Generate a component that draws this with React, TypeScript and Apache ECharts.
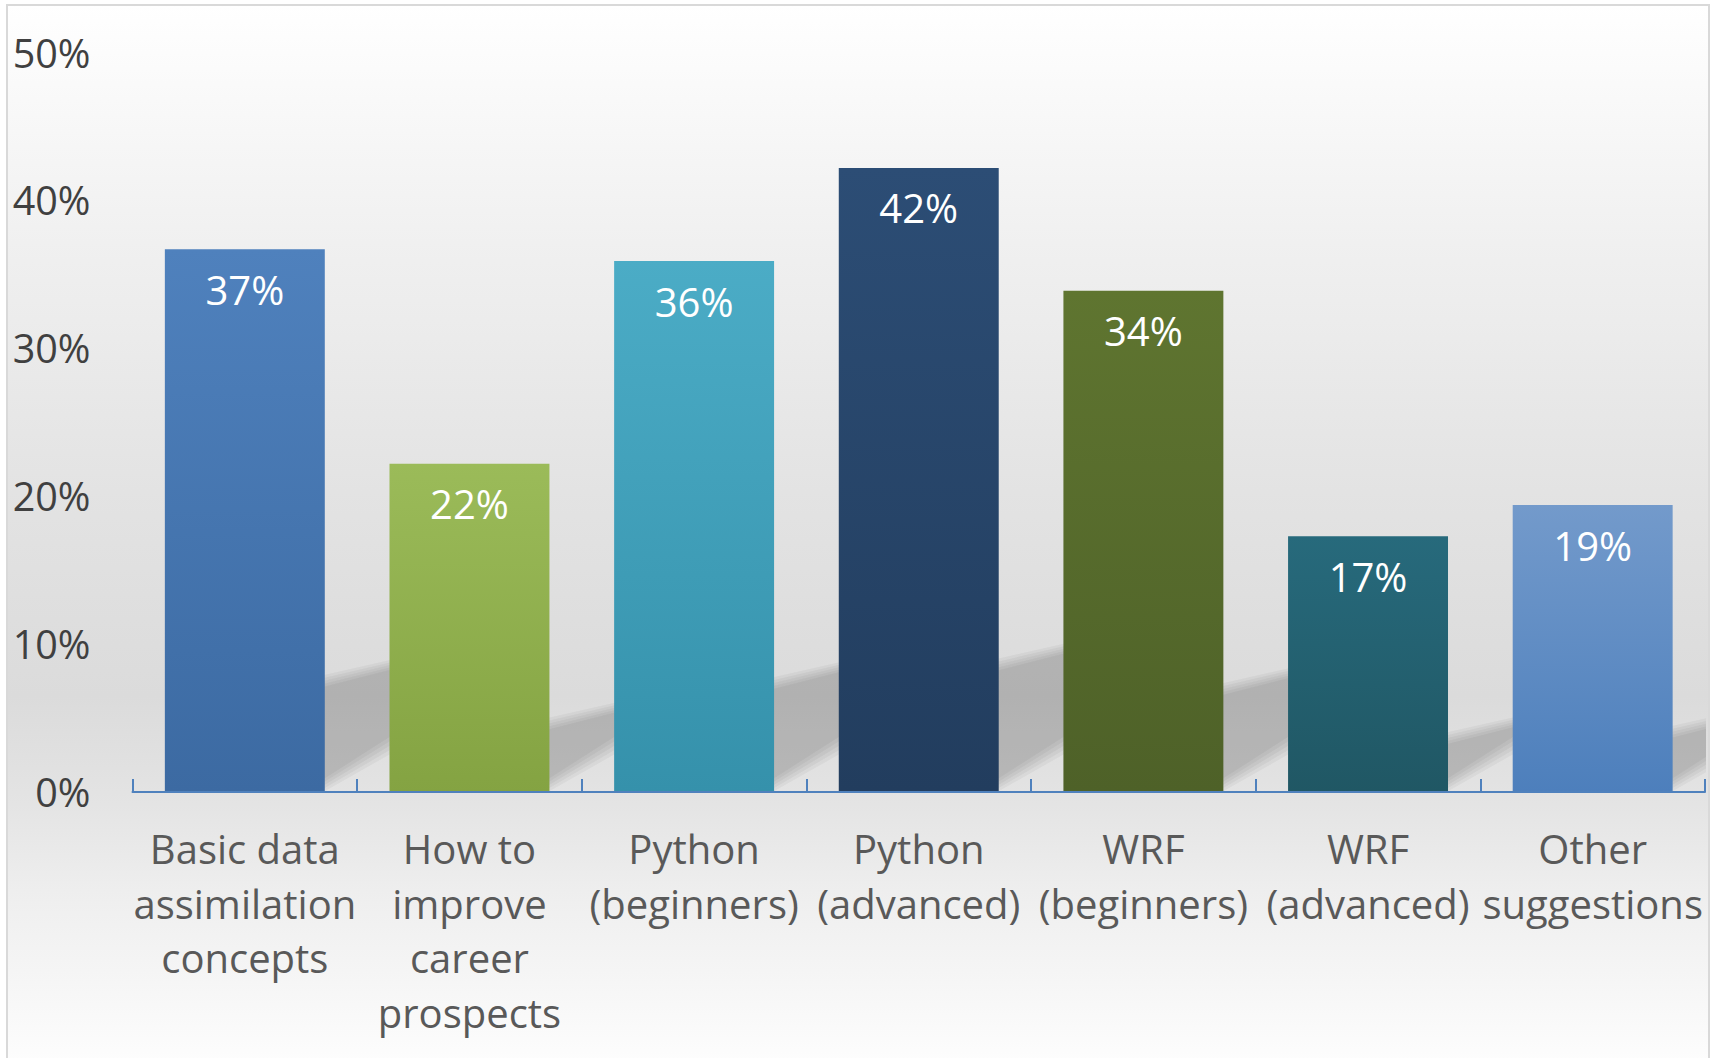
import React, { useEffect, useRef } from "react";
import * as echarts from "echarts";

const categories = [
  "Basic data\nassimilation\nconcepts",
  "How to\nimprove\ncareer\nprospects",
  "Python\n(beginners)",
  "Python\n(advanced)",
  "WRF\n(beginners)",
  "WRF\n(advanced)",
  "Other\nsuggestions",
];
const values = [0.367, 0.222, 0.359, 0.422, 0.339, 0.173, 0.194];
const barTopColors = ["#4f81bd", "#9bbb59", "#4bacc6", "#2c4d75", "#5f7530", "#276a7c", "#739acb"];
const barBottomColors = ["#3c6aa2", "#84a342", "#3591ab", "#223d5e", "#4e6128", "#205764", "#4d7fbc"];
const yTicks = { min: 0, max: 0.5, interval: 0.1 };

export default function App() {
  const ref = useRef<HTMLDivElement>(null);
  useEffect(() => {
    if (!ref.current) return;
    const chart = echarts.init(ref.current, undefined, { renderer: "svg" });
    const font = "'Open Sans', 'Noto Sans', sans-serif";
    const barRatio = 0.712;
    chart.setOption({
      animation: false,
      graphic: {
        elements: [
          {
            type: "rect",
            z: -10,
            silent: true,
            shape: { x: 7, y: 5, width: 1702, height: 1080 },
            style: {
              fill: new echarts.graphic.LinearGradient(0, 0, 0, 1, [
                { offset: 0, color: "#ffffff" },
                { offset: 0.22, color: "#f0f0f0" },
                { offset: 0.45, color: "#e3e3e3" },
                { offset: 0.64, color: "#dbdbdb" },
                { offset: 0.74, color: "#e4e4e4" },
                { offset: 0.82, color: "#eeeeee" },
                { offset: 1, color: "#ffffff" },
              ]),
              stroke: "#d9d9d9",
              lineWidth: 2,
            },
          },
        ],
      },
      grid: { left: 132.5, right: 12, top: 52.6, bottom: 266, containLabel: false },
      xAxis: {
        type: "category",
        data: categories,
        axisLine: { show: true, lineStyle: { color: "#4f81bd", width: 2 } },
        axisTick: { show: true, inside: true, length: 13, lineStyle: { color: "#4f81bd", width: 2 } },
        axisLabel: {
          interval: 0,
          color: "#595959",
          fontFamily: font,
          fontSize: 40,
          lineHeight: 54.7,
          margin: 29,
        },
        z: 5,
      },
      yAxis: {
        type: "value",
        min: yTicks.min,
        max: yTicks.max,
        interval: yTicks.interval,
        splitLine: { show: false },
        axisLine: { show: false },
        axisTick: { show: false },
        axisLabel: {
          color: "#404040",
          fontFamily: font,
          fontSize: 39.5,
          margin: 42,
          padding: [0, 0, 5, 0],
          formatter: (v: number) => Math.round(v * 100) + "%",
        },
      },
      series: [
        {
          type: "custom",
          z: 1,
          clip: true,
          silent: true,
          data: values.map((v, i) => [i, v]),
          renderItem: (params: any, api: any) => {
            const idx = api.value(0);
            const v = api.value(1);
            const base = api.coord([idx, 0]);
            const top = api.coord([idx, v]);
            const band = api.size([1, 0])[0];
            const bw = band * barRatio;
            const xr = base[0] + bw / 2;
            const h = base[1] - top[1];
            const sh = h * 0.2;
            const W = 90;
            const x0 = xr - 12;
            const x1 = xr + W;
            const st = 0.24;
            const sb = 0.6;
            const layers = [-6, -3, 0, 3, 6];
            const children = layers.map((d) => ({
              type: "polygon",
              shape: {
                points: [
                  [x0, base[1] + d],
                  [x0, base[1] - sh - d],
                  [x1 + d, base[1] - sh - d - (x1 - x0) * st],
                  [x1 + d, base[1] + d - (x1 - x0) * sb],
                ],
              },
              style: { fill: "rgba(0,0,0,0.041)" },
            }));
            return { type: "group", children };
          },
        },
        {
          type: "bar",
          z: 3,
          barWidth: (barRatio * 100).toFixed(1) + "%",
          data: values.map((v, i) => ({
            value: v,
            itemStyle: {
              color: new echarts.graphic.LinearGradient(0, 0, 0, 1, [
                { offset: 0, color: barTopColors[i] },
                { offset: 1, color: barBottomColors[i] },
              ]),
            },
          })),
          label: {
            show: true,
            position: "insideTop",
            distance: 20,
            color: "#ffffff",
            fontFamily: font,
            fontSize: 40,
            lineHeight: 40,
            formatter: (p: any) => Math.round(p.value * 100) + "%",
          },
        },
      ],
    });
    return () => chart.dispose();
  }, []);
  return (
    <div
      ref={ref}
      style={{ position: "absolute", left: 0, top: 0, width: 1717, height: 1058 }}
    />
  );
}
